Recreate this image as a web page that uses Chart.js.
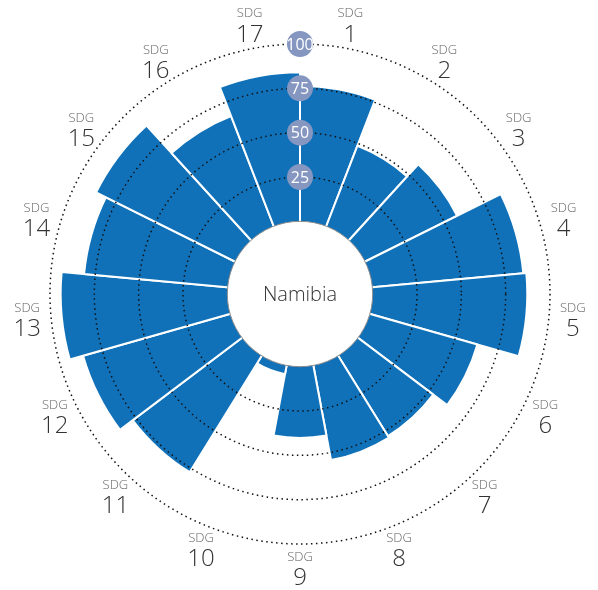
<!DOCTYPE html>
<html>
<head>
<meta charset="utf-8">
<script src="https://cdn.jsdelivr.net/npm/chart.js@4/dist/chart.umd.min.js"></script>
<style>
  html, body { margin: 0; padding: 0; background: #fff; }
  #wrap { width: 598px; height: 590px; }
</style>
</head>
<body>
<div id="wrap"><canvas id="sdgChart"></canvas></div>
<script>
// SDG goal numbers and scores for Namibia
const sdgGoals = ['1', '2', '3', '4', '5', '6', '7', '8', '9', '10', '11', '12', '13', '14', '15', '16', '17'];
const sdgScores = [76.5, 48.7, 58, 85.5, 87.2, 63, 53.2, 54.3, 40.2, 5, 77.2, 86.2, 94, 81.3, 87.5, 66.6, 84.1];
const tickValues = [25, 50, 75, 100];
const countryName = 'Namibia';

const barColor = '#1071b9';
const fontFamily = '"Open Sans", "Noto Sans", sans-serif';

// white hole in the middle with the country name
const holePlugin = {
    id: 'hole',
    afterDatasetsDraw(chart) {
        const scale = chart.scales.r;
        const ctx = chart.ctx;
        const r0 = scale.getDistanceFromCenterForValue(0);
        ctx.save();
        ctx.beginPath();
        ctx.arc(scale.xCenter, scale.yCenter, r0, 0, Math.PI * 2);
        ctx.fillStyle = '#fff';
        ctx.fill();
        ctx.lineWidth = 1;
        ctx.strokeStyle = '#8c8c8c';
        ctx.stroke();
        ctx.fillStyle = '#333';
        ctx.font = '300 20px ' + fontFamily;
        ctx.textAlign = 'center';
        ctx.textBaseline = 'middle';
        ctx.fillText(countryName, scale.xCenter, scale.yCenter + 1);
        ctx.restore();
    }
};

// round tick badges and two-line SDG labels
const labelPlugin = {
    id: 'sdgLabels',
    afterDraw(chart) {
        const scale = chart.scales.r;
        const ctx = chart.ctx;
        ctx.save();
        ctx.textAlign = 'center';
        ctx.textBaseline = 'middle';

        scale.ticks.forEach(tick => {
            const pos = scale.getPointPosition(0, scale.getDistanceFromCenterForValue(tick.value));
            ctx.beginPath();
            ctx.arc(pos.x, pos.y, 13, 0, Math.PI * 2);
            ctx.fillStyle = '#8597c0';
            ctx.fill();
            ctx.fillStyle = '#fff';
            ctx.font = '16px ' + fontFamily;
            ctx.fillText(String(tick.value), pos.x, pos.y + 1);
        });

        const half = Math.PI / sdgGoals.length;
        sdgGoals.forEach((goal, i) => {
            const pos = scale.getPointPosition(i, scale.drawingArea + 24, half);
            ctx.fillStyle = '#666';
            ctx.font = '300 13px ' + fontFamily;
            ctx.fillText('SDG', pos.x, pos.y - 11);
            ctx.fillStyle = '#333';
            ctx.font = '300 24px ' + fontFamily;
            ctx.fillText(goal, pos.x, pos.y + 10);
        });
        ctx.restore();
    }
};

new Chart(document.getElementById('sdgChart'), {
    type: 'polarArea',
    data: {
        labels: sdgGoals,
        datasets: [{
            data: sdgScores,
            backgroundColor: barColor,
            borderColor: '#fff',
            borderWidth: 2
        }]
    },
    options: {
        responsive: true,
        maintainAspectRatio: false,
        animation: false,
        layout: {
            padding: { left: 50, right: 48, top: 44, bottom: 46 }
        },
        plugins: {
            legend: { display: false },
            tooltip: { enabled: false }
        },
        scales: {
            r: {
                min: -41,
                max: 100,
                afterBuildTicks: axis => {
                    axis.ticks = tickValues.map(v => ({ value: v }));
                },
                ticks: { display: false },
                angleLines: { display: false },
                pointLabels: { display: false },
                grid: {
                    z: 1,
                    circular: true,
                    color: '#111',
                    lineWidth: 1.5
                },
                border: {
                    dash: [1.5, 3.5]
                }
            }
        }
    },
    plugins: [holePlugin, labelPlugin]
});
</script>
</body>
</html>
